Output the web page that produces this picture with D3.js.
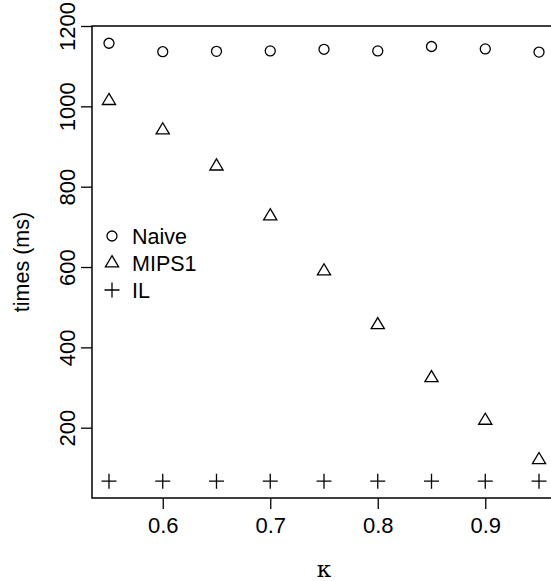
<!DOCTYPE html>
<html>
<head>
<meta charset="utf-8">
<script src="https://cdn.jsdelivr.net/npm/d3@7"></script>
<style>
  html, body { margin: 0; padding: 0; background: #fff; }
  text { font-family: "Liberation Sans", Arial, sans-serif; fill: #000; }
</style>
</head>
<body>
<div id="chart"></div>
<script>
// ── data ────────────────────────────────────────────────────────────────
const kappa = [0.55, 0.6, 0.65, 0.7, 0.75, 0.8, 0.85, 0.9, 0.95];
const naive = [1157, 1136, 1137, 1138, 1142, 1138, 1149, 1143, 1135];
const mips1 = [1014, 941, 851, 727, 590, 456, 324, 218, 120];
const il    = [67, 67, 67, 67, 67, 67, 67, 67, 67];
const xTicks = [0.6, 0.7, 0.8, 0.9];
const yTicks = [200, 400, 600, 800, 1000, 1200];
const legendLabels = ['Naive', 'MIPS1', 'IL'];

// ── layout ──────────────────────────────────────────────────────────────
const W = 551, H = 581;
const plot = { left: 92, right: 556, top: 26, bottom: 498 };
const FS = 21.5;   // texte légende / titre
const FT = 22;     // étiquettes de graduation

const x = d3.scaleLinear().domain([0.5342, 0.9658]).range([plot.left, plot.right]);
const y = d3.scaleLinear().domain([25, 1200]).range([plot.bottom, plot.top]);

const svg = d3.select('#chart').append('svg')
  .attr('width', W).attr('height', H)
  .attr('viewBox', `0 0 ${W} ${H}`);

// cadre (le bord droit sort de l'image)
svg.append('rect')
  .attr('x', plot.left).attr('y', plot.top)
  .attr('width', plot.right - plot.left).attr('height', plot.bottom - plot.top)
  .attr('fill', 'none').attr('stroke', '#000').attr('stroke-width', 1.5);

// axes
const xAxis = svg.append('g')
  .attr('transform', `translate(0,${plot.bottom})`)
  .call(d3.axisBottom(x).tickValues(xTicks).tickSize(11).tickSizeOuter(0).tickFormat(d3.format('.1f')));
xAxis.select('.domain').remove();
xAxis.selectAll('line').attr('stroke-width', 1.3);
xAxis.selectAll('text').attr('font-size', FT).attr('font-family', '"Liberation Sans", Arial, sans-serif')
  .attr('dy', null).attr('y', 35);

const yAxis = svg.append('g')
  .attr('transform', `translate(${plot.left},0)`)
  .call(d3.axisLeft(y).tickValues(yTicks).tickSize(11).tickSizeOuter(0).tickFormat(d3.format('d')));
yAxis.select('.domain').remove();
yAxis.selectAll('line').attr('stroke-width', 1.3);
yAxis.selectAll('text')
  .attr('font-size', FT).attr('font-family', '"Liberation Sans", Arial, sans-serif')
  .attr('x', null).attr('dy', null)
  .attr('text-anchor', 'middle')
  .attr('transform', 'translate(-17,0) rotate(-90)');

// titres d'axes
svg.append('text')
  .attr('transform', `translate(29,${(plot.top + plot.bottom) / 2}) rotate(-90)`)
  .attr('text-anchor', 'middle').attr('font-size', FS)
  .text('times (ms)');

svg.append('text')
  .attr('x', (plot.left + plot.right) / 2).attr('y', 577)
  .attr('text-anchor', 'middle').attr('font-size', 23)
  .style('font-family', '"DejaVu Serif", "Liberation Serif", serif')
  .text('κ');

// ── symboles ────────────────────────────────────────────────────────────
function drawCircle(g, cx, cy) {
  g.append('circle').attr('cx', cx).attr('cy', cy).attr('r', 5)
    .attr('fill', 'none').attr('stroke', '#000').attr('stroke-width', 1.3);
}
function drawTriangle(g, cx, cy) {
  const r = 7.3, xc = 6.6, yc = 3.8;
  g.append('path')
    .attr('d', `M${cx},${cy - r}L${cx + xc},${cy + yc}L${cx - xc},${cy + yc}Z`)
    .attr('fill', 'none').attr('stroke', '#000').attr('stroke-width', 1.3);
}
function drawPlus(g, cx, cy) {
  const a = 7.5;
  g.append('path')
    .attr('d', `M${cx - a},${cy}H${cx + a}M${cx},${cy - a}V${cy + a}`)
    .attr('fill', 'none').attr('stroke', '#000').attr('stroke-width', 1.3);
}
const drawers = [drawCircle, drawTriangle, drawPlus];

const pts = svg.append('g');
[naive, mips1, il].forEach((serie, s) => {
  serie.forEach((v, i) => drawers[s](pts, x(kappa[i]), y(v)));
});

// ── légende ─────────────────────────────────────────────────────────────
const leg = svg.append('g');
legendLabels.forEach((lab, i) => {
  const cy = 236 + i * 27;
  drawers[i](leg, 112, cy);
  leg.append('text').attr('x', 132).attr('y', cy + 7.5)
    .attr('font-size', FS).text(lab);
});
</script>
</body>
</html>
